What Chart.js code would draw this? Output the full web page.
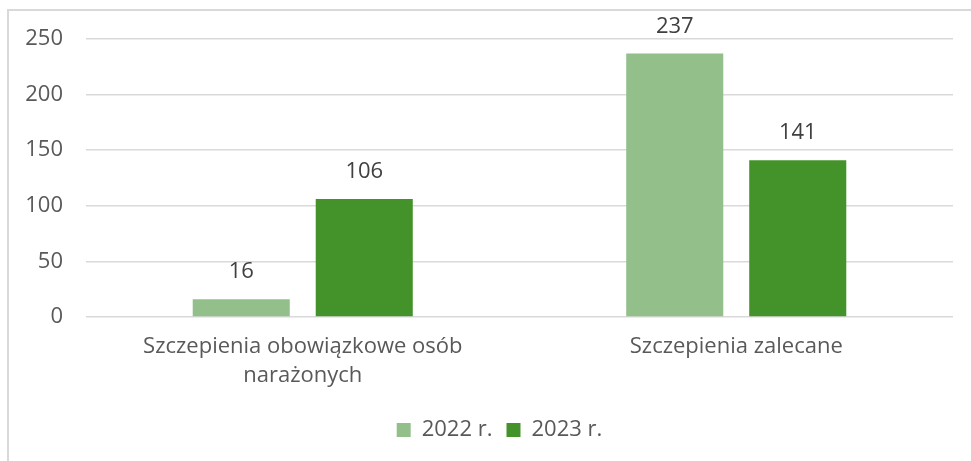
<!DOCTYPE html>
<html><head><meta charset="utf-8">
<script src="https://cdn.jsdelivr.net/npm/chart.js@4.4.1/dist/chart.umd.min.js"></script>
<style>
html,body{margin:0;padding:0;background:#fff;overflow:hidden;width:971px;height:461px}
#frame{position:absolute;left:7px;top:9px;width:990px;height:480px;border:2px solid #d9d9d9;box-sizing:border-box}
#wrap{position:absolute;left:0;top:0;width:971px;height:461px}
</style></head><body>
<div id="frame"></div>
<div id="wrap"><canvas id="c"></canvas></div>
<script>
const categories = [["Szczepienia obowiązkowe osób", "narażonych"], "Szczepienia zalecane"];
const seriesNames = ["2022 r.", "2023 r."];
const values2022 = [16, 237];
const values2023 = [106, 141];
const yTickValues = [0, 50, 100, 150, 200, 250];

const FONT = "'Open Sans', 'Liberation Sans', Arial, sans-serif";
const colors = ["#93C08A", "#44922A"];

const valueLabels = {
  id: 'valueLabels',
  afterDatasetsDraw(chart) {
    const ctx = chart.ctx;
    ctx.save();
    ctx.font = "22px " + FONT;
    ctx.fillStyle = "#404040";
    ctx.textAlign = "center";
    ctx.textBaseline = "middle";
    chart.data.datasets.forEach((ds, i) => {
      const meta = chart.getDatasetMeta(i);
      meta.data.forEach((el, j) => {
        ctx.fillText(String(ds.data[j]), el.x, el.y - 27);
      });
    });
    ctx.restore();
  }
};

const shiftLegend = {
  id: 'shiftLegend',
  afterLayout(chart) {
    const lg = chart.legend;
    if (lg) { lg.left += 23; lg.right += 23; }
  }
};

new Chart(document.getElementById('c'), {
  type: 'bar',
  data: {
    labels: categories,
    datasets: [
      { label: seriesNames[0], data: values2022, backgroundColor: colors[0], borderWidth: 0 },
      { label: seriesNames[1], data: values2023, backgroundColor: colors[1], borderWidth: 0 }
    ]
  },
  options: {
    responsive: true,
    maintainAspectRatio: false,
    animation: false,
    devicePixelRatio: 1,
    categoryPercentage: 0.5675,
    barPercentage: 0.789,
    layout: { padding: { left: 0, right: 18, top: 39, bottom: 10 } },
    plugins: {
      legend: {
        position: 'bottom',
        labels: {
          font: { family: FONT, size: 22 },
          color: '#595959',
          boxWidth: 14,
          boxHeight: 14,
          padding: 14
        }
      },
      tooltip: { enabled: false }
    },
    scales: {
      x: {
        grid: { display: false, drawTicks: false },
        border: { display: false },
        ticks: {
          font: { family: FONT, size: 22, lineHeight: 1.32 },
          color: '#595959',
          padding: 15,
          maxRotation: 0,
          autoSkip: false
        }
      },
      y: {
        min: 0,
        max: 250,
        afterBuildTicks(scale) { scale.ticks = yTickValues.map(v => ({ value: v })); },
        afterFit(scale) { scale.width = 86; },
        grid: { color: '#d9d9d9', lineWidth: 1.5, drawTicks: false },
        border: { display: false },
        ticks: {
          font: { family: FONT, size: 22 },
          color: '#595959',
          padding: 23
        }
      }
    }
  },
  plugins: [valueLabels, shiftLegend]
});
</script>
</body></html>
